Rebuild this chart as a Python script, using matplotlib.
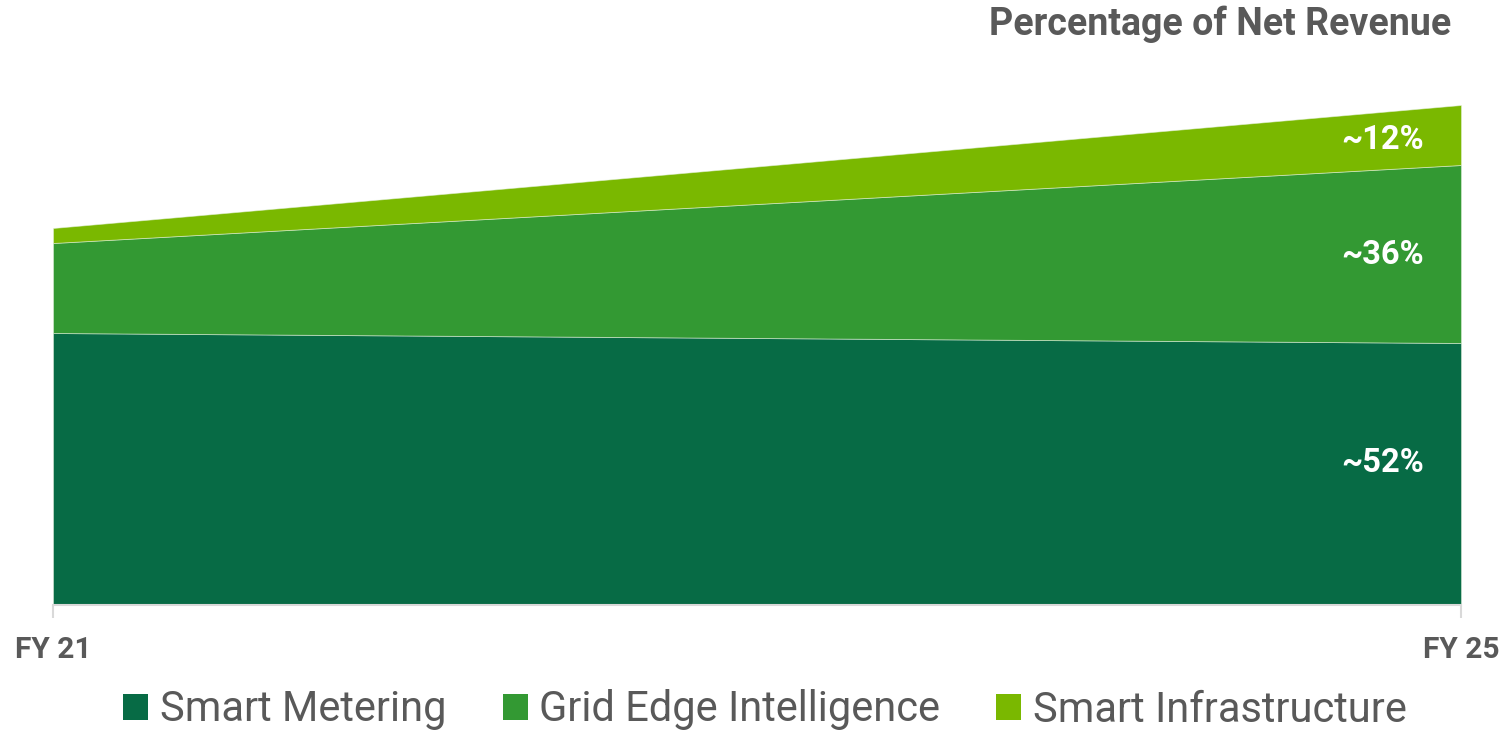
import matplotlib
matplotlib.use("Agg")
import matplotlib.pyplot as plt
from matplotlib.patches import Patch

plt.rcParams['font.family'] = ['Roboto', 'DejaVu Sans']

years = ['FY 21', 'FY 25']
smart_metering = [54.4, 52.4]
grid_edge = [18.0, 35.6]
smart_infra = [3.0, 12.0]
series_names = ['Smart Metering', 'Grid Edge Intelligence', 'Smart Infrastructure']
end_labels = ['~52%', '~36%', '~12%']
label_y = [28.4, 70.0, 93.0]

colors = ['#076b45', '#339933', '#7ab800']
text_gray = '#595959'

fig = plt.figure(figsize=(15.03, 7.34), dpi=100)
ax = fig.add_axes([53 / 1503, 129 / 734, 1408 / 1503, 500 / 734])

x = [0, 1]
polys = ax.stackplot(x, smart_metering, grid_edge, smart_infra, colors=colors,
                     edgecolor=(0.9, 0.95, 0.88, 0.6), linewidth=0.6)

ax.set_xlim(0, 1)
ax.set_ylim(0, 100)

# labels inside the right end of each band
for yy, lab in zip(label_y, end_labels):
    ax.text(0.944, yy, lab, color='white', fontsize=23.5, fontweight='bold',
            ha='center', va='center')

for s in ['top', 'right', 'left']:
    ax.spines[s].set_visible(False)
ax.spines['bottom'].set_color('#d9d9d9')
ax.spines['bottom'].set_linewidth(1.5)
ax.set_yticks([])
ax.set_xticks(x)
ax.set_xticklabels(years, fontsize=21.5, fontweight='bold', color=text_gray)
ax.tick_params(axis='x', length=9, width=1.5, color='#d9d9d9', pad=13)

fig.text(1451 / 1503, 1 - 24 / 734, 'Percentage of Net Revenue', ha='right', va='center',
         fontsize=27, fontweight='bold', color=text_gray)

handles = [Patch(facecolor=c, edgecolor='none') for c in colors]
leg = fig.legend(handles, series_names, loc='center', bbox_to_anchor=(0.509, 1 - 710 / 734),
                 ncol=3, frameon=False, fontsize=30, handlelength=0.6, handleheight=0.6,
                 handletextpad=0.28, columnspacing=1.35)
for t in leg.get_texts():
    t.set_color(text_gray)

fig.savefig('out.png', dpi=100)
